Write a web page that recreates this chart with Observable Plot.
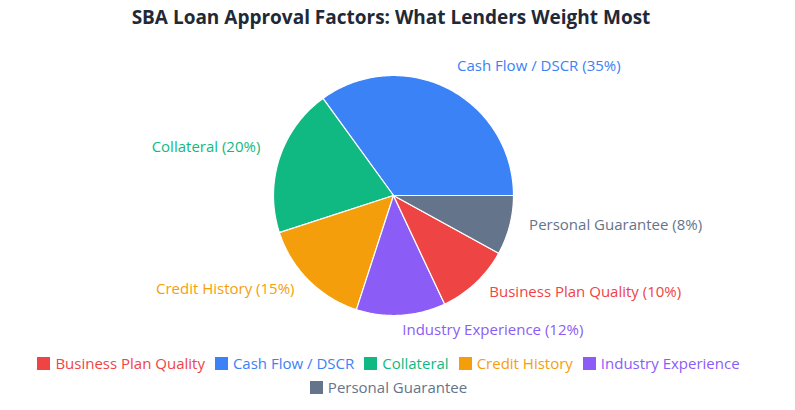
<!DOCTYPE html>
<html>
<head>
<meta charset="utf-8">
<script src="https://cdn.jsdelivr.net/npm/d3@7"></script>
<script src="https://cdn.jsdelivr.net/npm/@observablehq/plot@0.6"></script>
<style>
  html, body { margin: 0; padding: 0; background: #fff; }
  body { width: 795px; height: 410px; overflow: hidden; font-family: "Open Sans", sans-serif; }
  #title { height: 35px; line-height: 35px; text-align: center; font-weight: 700; font-size: 19px; color: #1f2937; padding-right: 13px; }
  #chart svg { display: block; overflow: visible; }
  #legend { display: flex; flex-wrap: wrap; justify-content: center; column-gap: 10px; row-gap: 3px; padding: 8px 36px 0 18px; font-size: 15px; }
  .item { display: flex; align-items: center; line-height: 21px; }
  .sw { width: 13px; height: 13px; margin-right: 5px; }
</style>
</head>
<body>
<div id="title">SBA Loan Approval Factors: What Lenders Weight Most</div>
<div id="chart"></div>
<div id="legend"></div>
<script>
const factors = ["Cash Flow / DSCR", "Collateral", "Credit History", "Industry Experience", "Business Plan Quality", "Personal Guarantee"];
const weights = [35, 20, 15, 12, 10, 8];
const colors = ["#3b82f6", "#10b981", "#f59e0b", "#8b5cf6", "#ef4444", "#64748b"];
const legendOrder = ["Business Plan Quality", "Cash Flow / DSCR", "Collateral", "Credit History", "Industry Experience", "Personal Guarantee"];

const W = 795, H = 310, cx = 393, cy = 160, R = 120;
const total = d3.sum(weights);

// slice polygons (counterclockwise from 3 o'clock), unit radius
let start = 0;
const pts = [];
const labels = [];
factors.forEach((name, i) => {
  const a0 = start, a1 = start + weights[i] / total * 2 * Math.PI;
  start = a1;
  pts.push({name, x: 0, y: 0});
  const n = Math.max(2, Math.ceil((a1 - a0) / (Math.PI / 180)));
  for (let k = 0; k <= n; k++) {
    const a = a0 + (a1 - a0) * k / n;
    pts.push({name, x: Math.cos(a), y: Math.sin(a)});
  }
  pts.push({name, x: 0, y: 0});
  const m = (a0 + a1) / 2;
  labels.push({name, text: `${name} (${weights[i]}%)`, x: Math.cos(m) * 140 / R, y: Math.sin(m) * 140 / R, right: Math.cos(m) >= 0});
});

const plot = Plot.plot({
  width: W, height: H,
  margin: 0,
  x: {domain: [-cx / R, (W - cx) / R], axis: null},
  y: {domain: [-(H - cy) / R, cy / R], axis: null},
  color: {domain: factors, range: colors},
  style: {fontFamily: "'Open Sans', sans-serif", overflow: "visible"},
  marks: [
    Plot.line(pts, {x: "x", y: "y", z: "name", fill: "name", stroke: "white", strokeWidth: 1.2, strokeLinejoin: "round"}),
    Plot.text(labels.filter(d => d.right), {x: "x", y: "y", text: "text", fill: "name", textAnchor: "start", dy: -5, fontSize: 15}),
    Plot.text(labels.filter(d => !d.right), {x: "x", y: "y", text: "text", fill: "name", textAnchor: "end", dy: -5, fontSize: 15})
  ]
});
document.getElementById("chart").appendChild(plot);

const leg = document.getElementById("legend");
const colorOf = Object.fromEntries(factors.map((f, i) => [f, colors[i]]));
legendOrder.forEach(name => {
  const it = document.createElement("div");
  it.className = "item";
  it.style.color = colorOf[name];
  const sw = document.createElement("span");
  sw.className = "sw";
  sw.style.background = colorOf[name];
  it.appendChild(sw);
  it.appendChild(document.createTextNode(name));
  leg.appendChild(it);
});
</script>
</body>
</html>
